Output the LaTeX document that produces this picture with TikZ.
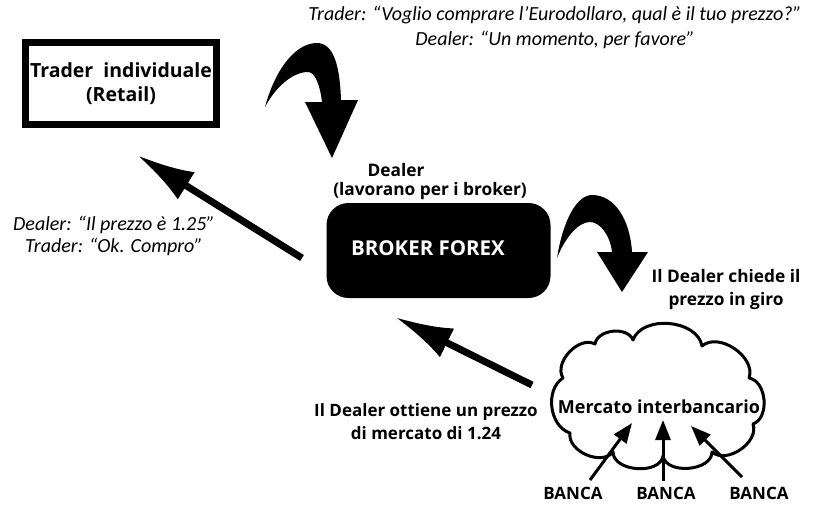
\documentclass[tikz,border=0pt]{standalone}
\usepackage{fontspec}
\setmainfont{Open Sans}
\newfontfamily\talkfont{Carlito}
\usetikzlibrary{arrows.meta}

\begin{document}
\begin{tikzpicture}[x=1pt,y=-1pt]
\useasboundingbox (0,0) rectangle (813,504);
\tikzset{
  boldlabel/.style={font=\bfseries\fontsize{17.3}{23}\selectfont, align=center, inner sep=0pt},
  talk/.style={font=\talkfont\itshape\fontsize{20}{24.5}\selectfont, align=center, inner sep=0pt},
  bigarrow/.style={line width=7pt, -{Latex[length=58pt,width=32pt]}},
  bankarrow/.style={line width=3pt, -{Triangle[length=20pt,width=15pt]}},
  banklabel/.style={font=\bfseries\fontsize{17}{20}\selectfont, inner sep=0pt},
  curl/.style={fill=black},
  cloudline/.style={line width=3pt, line join=round},
}

% retail trader box
\node[draw, line width=7pt, minimum width=191pt, minimum height=82pt,
      font=\bfseries\fontsize{19.5}{24}\selectfont, align=center, inner sep=0pt]
      (trader) at (121,83.5) {Trader\ \ individuale\\(Retail)};

% broker block
\node[fill=black, rounded corners=22pt, minimum width=224pt, minimum height=95pt]
      (broker) at (438.5,250.5) {};
\node[font=\bfseries\fontsize{20.5}{24}\selectfont, text=white, inner sep=0pt]
      (brokertext) at (428,248) {BROKER FOREX};
\node[boldlabel] (dealer) at (396,170) {Dealer};
\node[boldlabel] (dealerrole) at (430,191) {(lavorano per i broker)};

% dialogue texts
\node[talk] (ask) at (555,27.5)
  {Trader: “Voglio comprare l’Eurodollaro, qual è il tuo prezzo?”\\Dealer: “Un momento, per favore”};
\node[talk, font=\talkfont\itshape\fontsize{20}{22}\selectfont] (answer) at (114,236)
  {Dealer: “Il prezzo è 1.25”\\Trader: “Ok. Compro”};
\node[boldlabel] (asks) at (726,289) {Il Dealer chiede il\\prezzo in giro};
\node[boldlabel, font=\bfseries\fontsize{17}{23}\selectfont] (gets) at (426,421.5) {Il Dealer ottiene un prezzo\\di mercato di 1.24};

% curled arrows
\fill[curl] (265,107) .. controls (275,70) and (295,43) .. (317,43)
  .. controls (335,43) and (340,70) .. (341,100) -- (358,100) -- (332,158)
  -- (305,102) -- (322,102) .. controls (320,85) and (315,72) .. (308,72)
  .. controls (292,72) and (275,88) .. (265,107) -- cycle;
\fill[curl] (557,258) .. controls (563,220) and (577,195) .. (592,195)
  .. controls (615,195) and (630,220) .. (632,252) -- (648,252) -- (622,292)
  -- (597,252) -- (612,252) .. controls (610,235) and (600,222) .. (590,222)
  .. controls (578,222) and (565,238) .. (557,258) -- cycle;

% straight arrows
\coordinate (quoteS) at (302,258);
\coordinate (quoteE) at (137,155);
\draw[bigarrow] (quoteS) -- (quoteE);
\coordinate (priceS) at (532,385);
\coordinate (priceE) at (395,317);
\draw[bigarrow] (priceS) -- (priceE);

% interbank cloud
\coordinate (v1) at (563,378);
\coordinate (v2) at (595,344);
\coordinate (v3) at (633,340);
\coordinate (v4) at (702,346);
\coordinate (v5) at (749,378);
\coordinate (v6) at (753,424);
\coordinate (v7) at (712,452);
\coordinate (v8) at (663,456);
\coordinate (v9) at (613,452);
\coordinate (v10) at (570,433);
\draw[cloudline] (v1) to[bend left=75] (v2) to[bend left=75] (v3)
  to[bend left=75] (v4) to[bend left=75] (v5) to[bend left=75] (v6)
  to[bend left=75] (v7) to[bend left=85] (v8) to[bend left=85] (v9)
  to[bend left=75] (v10) to[bend left=65] (v1) -- cycle;
\node[font=\bfseries\fontsize{18}{20}\selectfont, inner sep=0pt] (interbank) at (659,407) {Mercato interbancario};

% banks
\node[banklabel] (bankA) at (573,493) {BANCA};
\node[banklabel] (bankB) at (666,493) {BANCA};
\node[banklabel] (bankC) at (759,493) {BANCA};
\coordinate (bankAs) at (590,480);
\coordinate (bankAe) at (632,423);
\coordinate (bankBs) at (663,481);
\coordinate (bankBe) at (663,420);
\coordinate (bankCs) at (742,477);
\coordinate (bankCe) at (691,426);
\draw[bankarrow] (bankAs) -- (bankAe);
\draw[bankarrow] (bankBs) -- (bankBe);
\draw[bankarrow] (bankCs) -- (bankCe);
\end{tikzpicture}
\end{document}
